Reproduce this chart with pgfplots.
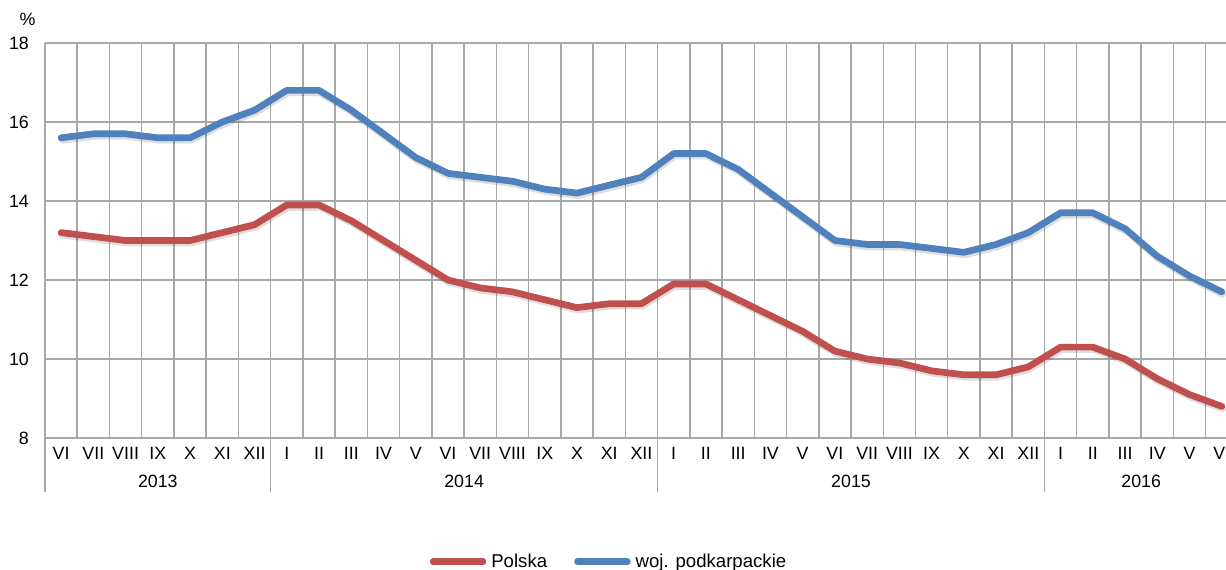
\documentclass[border=0pt]{standalone}
\usepackage{pgfplots}
\usepackage{pgfplotstable}
\pgfplotsset{compat=1.18}
\usetikzlibrary{calc}
\usepackage{fontspec}
\setmainfont{Liberation Sans}
\definecolor{gridgray}{RGB}{168,168,168}
\definecolor{plred}{RGB}{192,80,77}
\definecolor{plblue}{RGB}{79,129,189}
\pgfplotstableread{
x pl pk
0 13.2 15.6
1 13.1 15.7
2 13.0 15.7
3 13.0 15.6
4 13.0 15.6
5 13.2 16.0
6 13.4 16.3
7 13.9 16.8
8 13.9 16.8
9 13.5 16.3
10 13.0 15.7
11 12.5 15.1
12 12.0 14.7
13 11.8 14.6
14 11.7 14.5
15 11.5 14.3
16 11.3 14.2
17 11.4 14.4
18 11.4 14.6
19 11.9 15.2
20 11.9 15.2
21 11.5 14.8
22 11.1 14.2
23 10.7 13.6
24 10.2 13.0
25 10.0 12.9
26 9.9 12.9
27 9.7 12.8
28 9.6 12.7
29 9.6 12.9
30 9.8 13.2
31 10.3 13.7
32 10.3 13.7
33 10.0 13.3
34 9.5 12.6
35 9.1 12.1
36 8.8 11.7
}\datatable
\begin{document}
\begin{tikzpicture}[font=\fontsize{17.8}{21}\selectfont]
\begin{axis}[
  at={(45pt,132pt)}, anchor=south west,
  scale only axis, width=1192.9pt, height=395pt,
  xmin=-0.5, xmax=36.5, ymin=8, ymax=18,
  clip mode=individual,
  ytick={8,10,...,18},
  xtick={0,...,36},
  xticklabels={VI,VII,VIII,IX,X,XI,XII,I,II,III,IV,V,VI,VII,VIII,IX,X,XI,XII,I,II,III,IV,V,VI,VII,VIII,IX,X,XI,XII,I,II,III,IV,V,VI},
  minor xtick={-0.5,0.5,...,36.5},
  xminorgrids=true, ymajorgrids=true, xmajorgrids=false,
  major tick length=0pt, minor tick length=0pt,
  grid style={draw=gridgray, line width=1.5pt},
  minor grid style={draw=gridgray, line width=1.5pt},
  axis line style={draw=gridgray, line width=1.5pt},
  axis x line*=bottom, axis y line*=left,
  /pgf/number format/assume math mode=true,
  xticklabel style={anchor=center, inner sep=0pt, yshift=-15pt},
  yticklabel style={anchor=east, inner sep=0pt, xshift=-16pt},
  legend columns=2,
  legend style={at={(axis description cs:0.472,-0.3132)}, anchor=center, draw=none, fill=none,
    font=\fontsize{18.6}{22}\selectfont,
    nodes={inner sep=0pt},
    /tikz/every odd column/.append style={column sep=5pt},
    /tikz/every even column/.append style={column sep=27pt}},
  legend image code/.code={\draw[#1, line width=6.5pt, line cap=round] (0pt,0pt) -- (50pt,0pt);},
  every axis plot/.append style={line width=6.7pt, line join=round, line cap=round},
]
\addplot[forget plot, black, opacity=0.13, shift={(1pt,-2.5pt)}] table[x=x, y=pl] {\datatable};
\addplot[forget plot, black, opacity=0.13, shift={(1pt,-2.5pt)}] table[x=x, y=pk] {\datatable};
\addplot[plred] table[x=x, y=pl] {\datatable};
\addlegendentry{Polska}
\addplot[plblue] table[x=x, y=pk] {\datatable};
\addlegendentry{woj. podkarpackie}
\coordinate (s0) at (axis cs:-0.5,8);
\coordinate (s1) at (axis cs:6.5,8);
\coordinate (s2) at (axis cs:18.5,8);
\coordinate (s3) at (axis cs:30.5,8);
\coordinate (y0) at (axis cs:3,8);
\coordinate (y1) at (axis cs:12.5,8);
\coordinate (y2) at (axis cs:24.5,8);
\coordinate (y3) at (axis cs:33.5,8);
\end{axis}
\draw[gridgray, line width=1.5pt] (s0) -- ++(0pt,-54pt);
\draw[gridgray, line width=1.5pt] (s1) -- ++(0pt,-54pt);
\draw[gridgray, line width=1.5pt] (s2) -- ++(0pt,-54pt);
\draw[gridgray, line width=1.5pt] (s3) -- ++(0pt,-54pt);
\node[inner sep=0pt] at ($(y0)+(0pt,-43pt)$) {2013};
\node[inner sep=0pt] at ($(y1)+(0pt,-43pt)$) {2014};
\node[inner sep=0pt] at ($(y2)+(0pt,-43pt)$) {2015};
\node[inner sep=0pt] at ($(y3)+(0pt,-43pt)$) {2016};
\node[inner sep=0pt] at (27.5pt,550.5pt) {\%};
\pgfresetboundingbox
\useasboundingbox (0,0) rectangle (1226pt,570pt);
\end{tikzpicture}
\end{document}
